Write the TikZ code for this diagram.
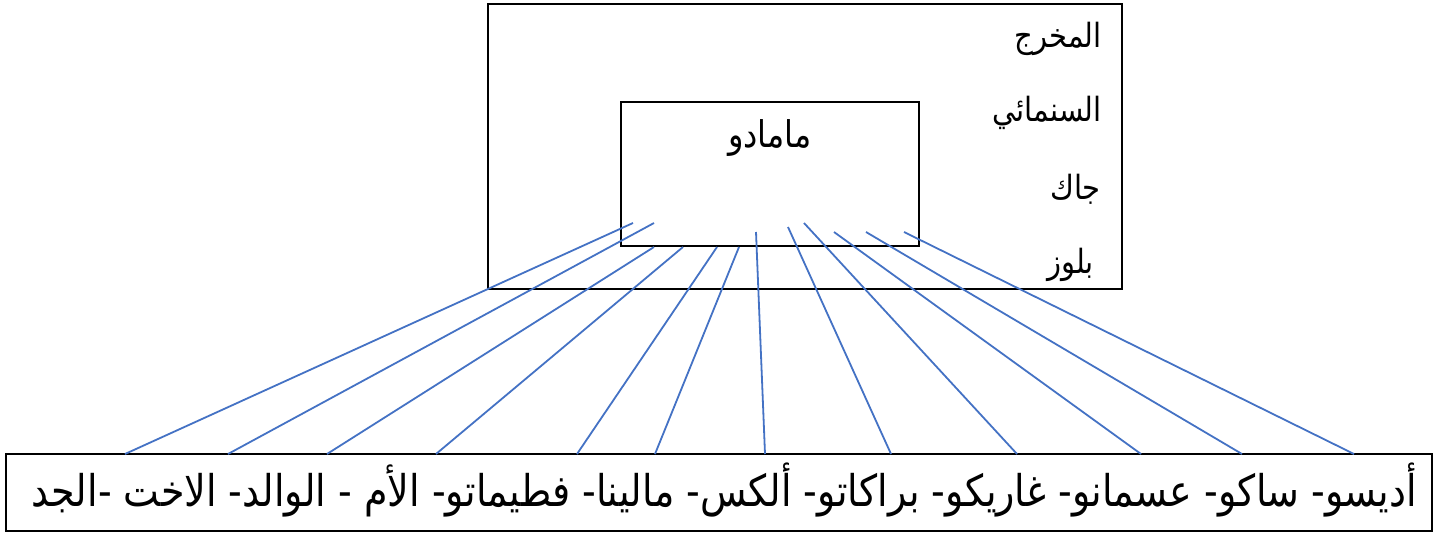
\documentclass[tikz,border=0pt]{standalone}
\usepackage{fontspec}
\usepackage{graphicx}
\TeXXeTstate=1
\newfontfamily\arabicfont[Script=Arabic]{DejaVu Sans}
\newcommand{\tallar}[1]{\scalebox{1}[1.15]{\beginR #1\endR}}
\definecolor{linkblue}{RGB}{68,114,196}
\begin{document}
\begin{tikzpicture}[x=1pt,y=-1pt,
  box/.style={draw=black,line width=1.4pt},
  link/.style={draw=linkblue,line width=1.8pt},
  lbl/.style={inner sep=0pt,font=\arabicfont\fontsize{29}{34}\selectfont},
  midlbl/.style={inner sep=0pt,font=\arabicfont\fontsize{32}{38}\selectfont},
  biglbl/.style={inner sep=0pt,font=\arabicfont\fontsize{38}{44}\selectfont}]
\useasboundingbox (0,0) rectangle (1439,533);
% boxes
\draw[box] (488,4) rectangle (1122,289);
\draw[box] (621,102) rectangle (919,246);
\draw[box] (6,454) rectangle (1432,531);
% labels
\node[lbl,anchor=base east] (l1) at (1102,47) {\tallar{المخرج}};
\node[lbl,anchor=base east] (l2) at (1102,121) {\tallar{السنمائي}};
\node[lbl,anchor=base east] (l3) at (1101,199) {\tallar{جاك}};
\node[lbl,anchor=base east] (l4) at (1094,273) {\tallar{بلوز}};
\node[midlbl,anchor=base] (m) at (770,147) {\tallar{مامادو}};
\node[biglbl,anchor=base] (names) at (724,506) {\tallar{أديسو- ساكو- عسمانو- غاريكو- براكاتو- ألكس- مالينا- فطيماتو- الأم - الوالد- الاخت -الجد}};
% endpoints
\coordinate (t1) at (633,223); \coordinate (b1) at (125,454);
\coordinate (t2) at (654,223); \coordinate (b2) at (228,454);
\coordinate (t3) at (654,247); \coordinate (b3) at (327,454);
\coordinate (t4) at (683,247); \coordinate (b4) at (436,454);
\coordinate (t5) at (717,247); \coordinate (b5) at (577,454);
\coordinate (t6) at (739,247); \coordinate (b6) at (655,454);
\coordinate (t7) at (756,232); \coordinate (b7) at (765,454);
\coordinate (t8) at (788,227); \coordinate (b8) at (891,454);
\coordinate (t9) at (804,223); \coordinate (b9) at (1017,454);
\coordinate (t10) at (834,232); \coordinate (b10) at (1141,454);
\coordinate (t11) at (866,232); \coordinate (b11) at (1242,454);
\coordinate (t12) at (904,232); \coordinate (b12) at (1354,454);
\foreach \i in {1,...,12} {\draw[link] (t\i) -- (b\i);}
\end{tikzpicture}
\end{document}
